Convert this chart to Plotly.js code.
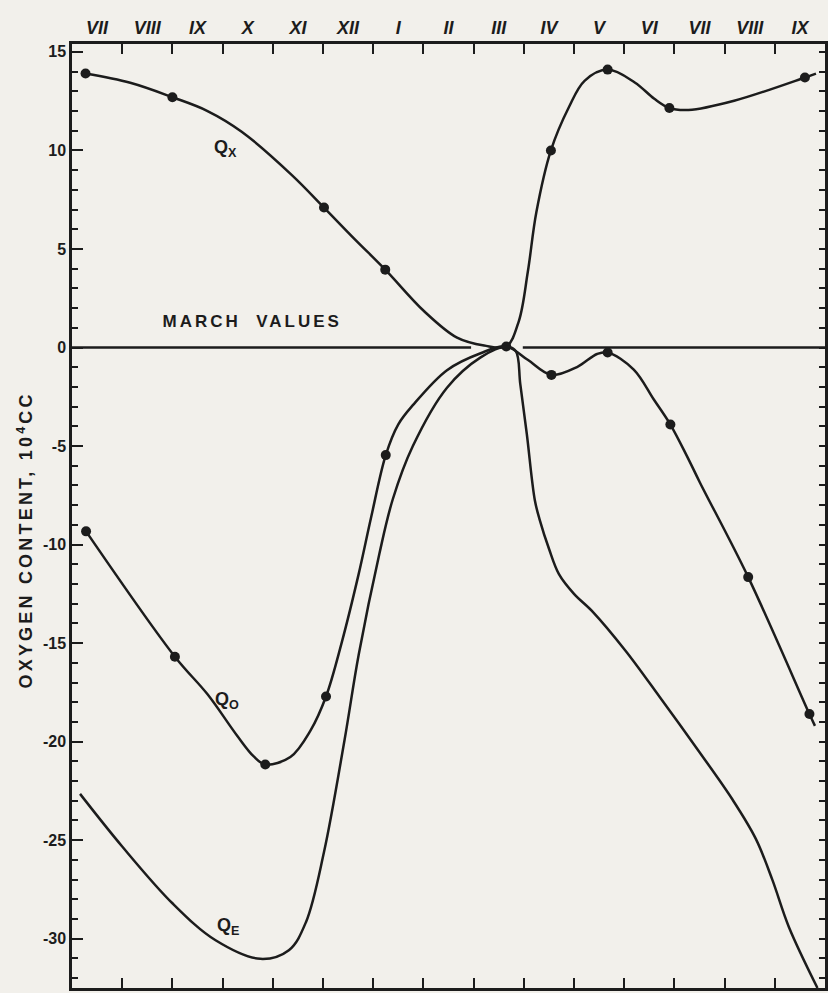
<!DOCTYPE html>
<html>
<head>
<meta charset="utf-8">
<script src="https://cdn.plot.ly/plotly-3.0.1.min.js"></script>
<style>
  html, body { margin: 0; padding: 0; background: #f2f0eb; }
  #chart { width: 828px; height: 993px; }
  .annotation[data-index="0"] text { letter-spacing: 3px; }
  .annotation[data-index="1"] text { letter-spacing: 3.2px; }
</style>
</head>
<body>
<div id="chart"></div>
<script>
// Month labels (July of year 1 through September of year 2)
const months = ["VII","VIII","IX","X","XI","XII","I","II","III","IV","V","VI","VII","VIII","IX"];

// Y-axis ticks
const yTickVals = [15, 10, 5, 0, -5, -10, -15, -20, -25, -30];
const yTickText = ["15", "10", "5", "0", "-5", "-10", "-15", "-20", "-25", "-30"];

// Q_X : observed points (month index from start of July, 10^4 cc)
const qxDotX = [0.27, 2.0, 5.02, 6.24, 8.65, 9.54, 10.67, 11.9, 14.6];
const qxDotY = [13.9, 12.7, 7.1, 3.95, 0.05, 10.0, 14.1, 12.15, 13.7];
// Q_X : drawn curve
const qxCurveX = [0.27, 1.16, 2.0, 2.7, 3.38, 4.38, 5.02, 5.63, 6.24, 7.01, 7.67, 8.21, 8.65, 8.90, 9.08, 9.25, 9.54, 9.90, 10.21, 10.67, 11.21, 11.6, 11.9, 12.28, 13.19, 14.6, 14.82];
const qxCurveY = [13.9, 13.43, 12.7, 12.0, 10.95, 8.75, 7.1, 5.5, 3.95, 1.85, 0.5, 0.1, 0.05, 1.33, 3.84, 6.86, 10.0, 12.2, 13.53, 14.1, 13.45, 12.62, 12.15, 12.05, 12.52, 13.7, 13.9];

// Q_O : observed points
const qoDotX = [0.28, 2.05, 3.85, 5.06, 6.25, 9.55, 10.67, 11.92, 13.47, 14.69];
const qoDotY = [-9.33, -15.69, -21.16, -17.71, -5.46, -1.39, -0.25, -3.91, -11.65, -18.6];
// Q_O : drawn curve
const qoCurveX = [0.28, 2.05, 2.70, 3.29, 3.62, 3.85, 4.35, 4.75, 5.06, 5.37, 5.71, 5.96, 6.25, 6.5, 6.80, 7.47, 8.14, 8.65, 9.07, 9.55, 10.06, 10.46, 10.67, 11.19, 11.59, 11.92, 12.25, 12.51, 13.47, 14.69, 14.8];
const qoCurveY = [-9.33, -15.69, -17.6, -19.7, -20.75, -21.16, -20.78, -19.44, -17.71, -15.0, -11.5, -8.6, -5.46, -3.9, -2.9, -1.15, -0.29, 0.05, -0.61, -1.39, -0.99, -0.33, -0.25, -1.12, -2.64, -3.91, -5.51, -6.86, -11.65, -18.6, -19.2];

// Q_E : drawn curve (no observed points marked)
const qeCurveX = [0.16, 1.0, 2.0, 2.86, 3.75, 4.32, 4.66, 5.02, 5.43, 5.71, 6.12, 6.39, 6.79, 7.47, 8.14, 8.65, 8.84, 8.93, 9.06, 9.22, 9.32, 9.5, 9.7, 10.0, 10.37, 11.03, 11.7, 12.49, 13.15, 13.62, 13.95, 14.28, 14.85];
const qeCurveY = [-22.65, -25.32, -28.2, -30.08, -31.02, -30.58, -29.16, -25.6, -19.9, -15.6, -10.5, -7.7, -5.0, -2.04, -0.5, 0.05, -0.18, -1.86, -4.39, -7.75, -8.77, -10.2, -11.5, -12.5, -13.4, -15.4, -17.71, -20.5, -22.91, -24.92, -27.0, -29.4, -32.5];

// March reference (zero) line is interrupted around the March crossing
const marchGap = [7.95, 8.98];

const INK = "#1c1c1c";
const BG = "#f2f0eb";
const FONT = "Liberation Sans, Arial, sans-serif";
const yRange = [-32.5, 15.4];

function curve(x, y, yax) {
  return { x: x, y: y, yaxis: yax || "y", mode: "lines", type: "scatter", hoverinfo: "skip",
           line: { color: INK, width: 2.5, shape: "spline", smoothing: 1.0 }, showlegend: false };
}
function dots(x, y) {
  return { x: x, y: y, mode: "markers", type: "scatter", hoverinfo: "skip",
           marker: { color: INK, size: 10 }, showlegend: false };
}

const data = [
  curve(qxCurveX, qxCurveY),
  curve(qoCurveX, qoCurveY),
  curve(qeCurveX, qeCurveY, "y2"),
  dots(qxDotX, qxDotY),
  dots(qoDotX, qoDotY)
];

const layout = {
  width: 828, height: 993,
  paper_bgcolor: BG, plot_bgcolor: BG,
  margin: { l: 72, r: 3, t: 44, b: 5 },
  showlegend: false,
  xaxis: {
    range: [0, months.length],
    side: "top",
    tickvals: months.map((m, i) => i + 0.5),
    ticktext: months,
    ticks: "",
    tickfont: { family: FONT, size: 18, color: INK, style: "italic", weight: "bold" },
    showline: true, linecolor: INK, linewidth: 2.5, mirror: "allticks",
    showgrid: false, zeroline: false,
    minor: { tickvals: months.slice(1).map((m, i) => i + 1), ticks: "inside", ticklen: 10, tickwidth: 2, tickcolor: INK, showgrid: false }
  },
  yaxis: {
    range: yRange,
    tickvals: yTickVals, ticktext: yTickText,
    ticks: "",
    tickfont: { family: FONT, size: 16, color: INK, weight: "bold" },
    showline: true, linecolor: INK, linewidth: 2.5, mirror: "allticks",
    showgrid: false, zeroline: false,
    minor: { dtick: 1, tick0: 0, ticks: "inside", ticklen: 6, tickwidth: 1.6, tickcolor: INK, showgrid: false }
  },
  yaxis2: {
    overlaying: "y", matches: "y", side: "left", range: yRange,
    tickvals: yTickVals, showticklabels: false, ticks: "",
    showline: false, mirror: "allticks",
    showgrid: false, zeroline: false,
    minor: { tickvals: yTickVals, ticks: "inside", ticklen: 11, tickwidth: 2, tickcolor: INK, showgrid: false }
  },
  shapes: [
    { type: "line", xref: "x", yref: "y", x0: 0, x1: marchGap[0], y0: 0, y1: 0, line: { color: INK, width: 2.3 } },
    { type: "line", xref: "x", yref: "y", x0: marchGap[1], x1: months.length, y0: 0, y1: 0, line: { color: INK, width: 2.3 } }
  ],
  annotations: [
    { text: "MARCH  VALUES", x: 3.58, y: 1.3, xref: "x", yref: "y", showarrow: false,
      font: { family: FONT, size: 17, color: INK, weight: "bold" } },
    { text: "OXYGEN CONTENT, 10<sup>4</sup>CC", x: -0.062, y: 0.475, xref: "paper", yref: "paper",
      textangle: -90, showarrow: false, xanchor: "center", yanchor: "middle",
      font: { family: FONT, size: 18, color: INK, weight: "bold" } },
    { text: "Q<sub>X</sub>", x: 3.05, y: 10.1, xref: "x", yref: "y", showarrow: false,
      font: { family: FONT, size: 18, color: INK, weight: "bold" } },
    { text: "Q<sub>O</sub>", x: 3.09, y: -17.9, xref: "x", yref: "y", showarrow: false,
      font: { family: FONT, size: 18, color: INK, weight: "bold" } },
    { text: "Q<sub>E</sub>", x: 3.1, y: -29.4, xref: "x", yref: "y", showarrow: false,
      font: { family: FONT, size: 18, color: INK, weight: "bold" } }
  ]
};

Plotly.newPlot("chart", data, layout, { displayModeBar: false });
</script>
</body>
</html>
